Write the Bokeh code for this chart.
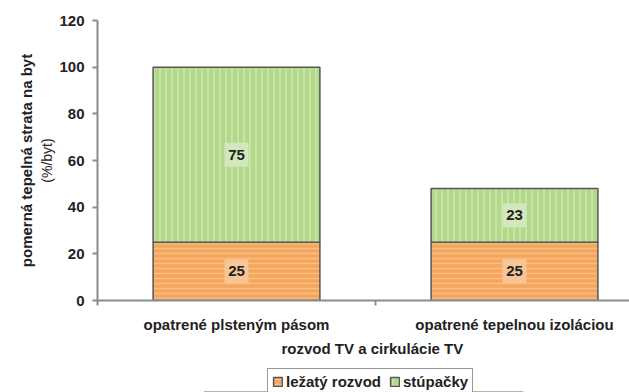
from bokeh.plotting import figure
from bokeh.layouts import column
from bokeh.models import (Range1d, FixedTicker, ColumnDataSource, Legend, LegendItem, Title)
from bokeh.core.properties import value
from bokeh.embed import file_html
from bokeh.resources import INLINE

categories = ["opatrené plsteným pásom", "opatrené tepelnou izoláciou"]
lezaty = [25, 25]
stupacky = [75, 23]
series_names = ["ležatý rozvod", "stúpačky"]
y_ticks = [0, 20, 40, 60, 80, 100, 120]
x_title = "rozvod TV a cirkulácie TV"
y_title = "pomerná tepelná strata na byt"
y_unit = "(%/byt)"

FONT = "Liberation Sans"
AX = "#8c8c8c"
TXT = "#222222"
ORANGE = dict(fill_color="#F5A65C", line_color="#555555", line_width=1.5,
              hatch_pattern="horizontal_line", hatch_color="#F9C48E",
              hatch_scale=5, hatch_weight=1.5, hatch_alpha=0.8)
GREEN = dict(fill_color="#B4D88A", line_color="#555555", line_width=1.5,
             hatch_pattern="vertical_line", hatch_color="#CCE6AE",
             hatch_scale=6, hatch_weight=2, hatch_alpha=0.8)

W = 629
MAIN_H, LEG_H = 366, 26
left, top = 97, 20
bottom = MAIN_H - 300
cat_w = 278.0
xmax = (W - left) / cat_w

p = figure(width=W, height=MAIN_H, output_backend="svg", toolbar_location=None,
           x_range=Range1d(0, xmax), y_range=Range1d(0, 120),
           min_border_left=left, min_border_right=0, min_border_top=top,
           min_border_bottom=bottom)
p.outline_line_color = None
p.grid.visible = False
p.background_fill_color = "white"

xs = [i + 0.5 for i in range(len(categories))]
tops2 = [a + b for a, b in zip(lezaty, stupacky)]
src = ColumnDataSource(dict(x=xs, l=lezaty, s=stupacky, t=tops2,
                            lm=[v / 2 for v in lezaty],
                            sm=[a + b / 2 for a, b in zip(lezaty, stupacky)],
                            ltxt=[str(v) for v in lezaty],
                            stxt=[str(v) for v in stupacky]))

p.vbar(x="x", bottom=0, top="l", width=0.6, source=src, **ORANGE)
p.vbar(x="x", bottom="l", top="t", width=0.6, source=src, **GREEN)

p.rect(x="x", y="lm", width=24, height=24, width_units="screen", height_units="screen",
       source=src, fill_color="#F8C596", line_color=None)
p.rect(x="x", y="sm", width=24, height=24, width_units="screen", height_units="screen",
       source=src, fill_color="#D2E8BC", line_color=None)
p.text(x="x", y="lm", text="ltxt", source=src, text_align="center", text_baseline="middle",
       text_font=value(FONT), text_font_size="15px", text_font_style="bold", text_color=TXT)
p.text(x="x", y="sm", text="stxt", source=src, text_align="center", text_baseline="middle",
       text_font=value(FONT), text_font_size="15px", text_font_style="bold", text_color=TXT)

ya = p.yaxis[0]
ya.ticker = FixedTicker(ticks=y_ticks)
ya.axis_line_color = AX
ya.axis_line_width = 2
ya.major_tick_line_color = AX
ya.major_tick_line_width = 2
ya.major_tick_out = 5
ya.major_tick_in = 0
ya.minor_tick_line_color = None
ya.major_label_text_font = FONT
ya.major_label_text_font_size = "15px"
ya.major_label_text_font_style = "bold"
ya.major_label_text_color = TXT
ya.major_label_standoff = 8

p.add_layout(Title(text=y_unit, align="center", text_font=FONT, text_font_size="14px",
                   text_font_style="normal", text_color=TXT, standoff=4), "left")
p.add_layout(Title(text=y_title, align="center", text_font=FONT, text_font_size="15px",
                   text_font_style="bold", text_color=TXT, standoff=0), "left")

xa = p.xaxis[0]
xa.ticker = FixedTicker(ticks=xs, minor_ticks=[0, 1, 2])
xa.major_label_overrides = {x: c for x, c in zip(xs, categories)}
xa.axis_line_color = AX
xa.axis_line_width = 2
xa.major_tick_out = 0
xa.major_tick_in = 0
xa.major_tick_line_color = None
xa.minor_tick_line_color = AX
xa.minor_tick_line_width = 2
xa.minor_tick_out = 5
xa.minor_tick_in = 0
xa.major_label_text_font = FONT
xa.major_label_text_font_size = "15px"
xa.major_label_text_font_style = "bold"
xa.major_label_text_color = TXT
xa.major_label_standoff = 10

p.add_layout(Title(text=x_title, align="left", offset=184, text_font=FONT,
                   text_font_size="15px", text_font_style="bold", text_color=TXT,
                   standoff=4), "below")

# legend strip below the chart (its frame is aligned with the main frame)
lf = figure(width=W, height=LEG_H, output_backend="svg", toolbar_location=None,
            x_range=Range1d(0, 1), y_range=Range1d(1000, 1001),
            x_axis_location=None, y_axis_location=None,
            min_border=0, min_border_left=0, min_border_right=0,
            min_border_top=0, min_border_bottom=0)
lf.outline_line_color = None
lf.grid.visible = False
# proxies for the legend, same data, lying below this strip's visible range
d1 = lf.vbar(x="x", bottom=0, top="l", width=0.6, source=src, **ORANGE)
d2 = lf.vbar(x="x", bottom="l", top="t", width=0.6, source=src, **GREEN)
legend = Legend(items=[LegendItem(label=series_names[0], renderers=[d1]),
                       LegendItem(label=series_names[1], renderers=[d2])],
                orientation="horizontal", location=(170, -3),
                label_text_font=FONT, label_text_font_size="15px",
                label_text_font_style="bold", label_text_color=TXT,
                glyph_width=11, glyph_height=11, label_standoff=3,
                spacing=8, padding=4, margin=0,
                border_line_color="#333333", border_line_width=1.5,
                background_fill_color="white", label_height=14)
lf.add_layout(legend, "center")

layout = column(p, lf, spacing=0)
open("out.html", "w").write(file_html(layout, INLINE))
